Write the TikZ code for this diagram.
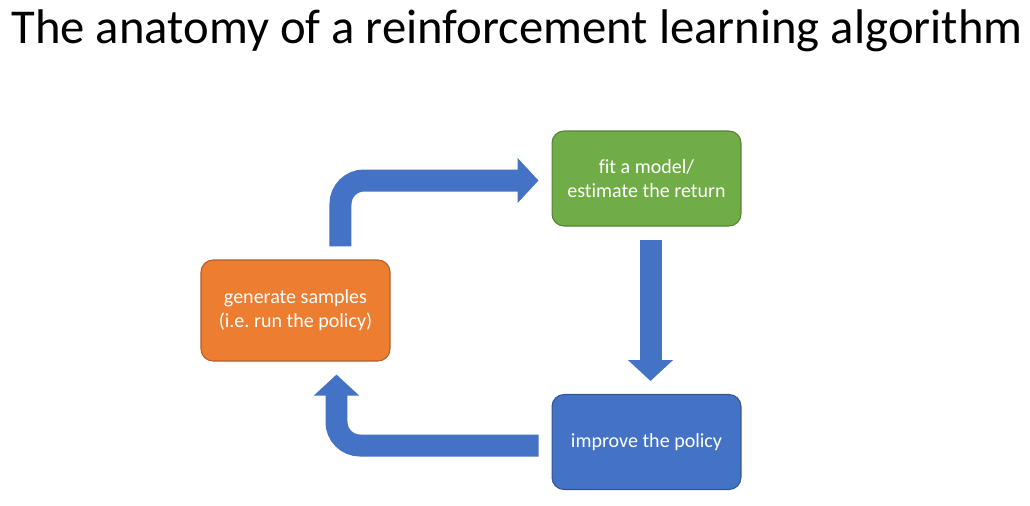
\documentclass[tikz,border=0pt]{standalone}
\usepackage{fontspec}
\setmainfont{Carlito}[Ligatures=CommonOff]
\usetikzlibrary{arrows.meta}
\frenchspacing

\definecolor{ppOrange}{HTML}{ED7D31}
\definecolor{ppGreen}{HTML}{70AD47}
\definecolor{ppBlue}{HTML}{4472C4}

\tikzset{
  stagebox/.style={rounded corners=0.24cm, line width=0.6pt, text=white,
    minimum width=3.78cm, minimum height=1.9cm, align=center,
    font=\fontsize{11.4}{13.6}\selectfont},
  blockarrow/.style={draw=ppBlue, line width=0.44cm, rounded corners=0.47cm,
    -{Triangle[width=0.88cm, length=0.42cm]},
    shorten <=0.26cm, shorten >=0.26cm}
}

\begin{document}
\begin{tikzpicture}[x=0.02cm, y=-0.02cm, line join=miter]

\useasboundingbox (0,0) rectangle (1030,505);

\node[anchor=base, font=\fontsize{27.7}{30}\selectfont] (title) at (517,43)
  {The anatomy of a reinforcement learning algorithm};

\node[stagebox, fill=ppOrange, draw=ppOrange!75!black, minimum height=2.02cm]
  (gen) at (295.5,310.5) {generate samples\\(i.e. run the policy)};
\node[stagebox, fill=ppGreen, draw=ppGreen!75!black]
  (fit) at (646.5,178.5) {fit a model/\\estimate the return};
\node[stagebox, fill=ppBlue, draw=ppBlue!75!black]
  (imp) at (646.5,442) {improve the policy};

% the loop
\draw[blockarrow] ([xshift=0.9cm]gen.north) |- ([yshift=-0.04cm]fit.west);
\draw[blockarrow] ([xshift=0.08cm]fit.south) -- ([xshift=0.08cm]imp.north);
\draw[blockarrow] ([yshift=-0.07cm]imp.west) -| ([xshift=0.82cm]gen.south);

\end{tikzpicture}
\end{document}
